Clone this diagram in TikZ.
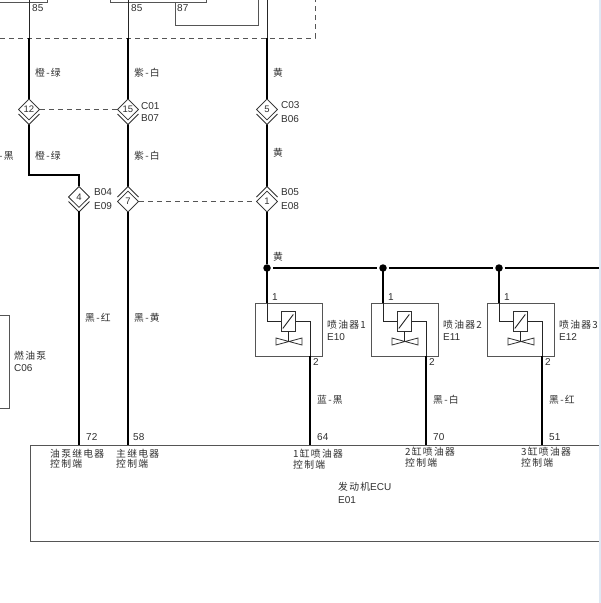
\documentclass[tikz,border=0pt]{standalone}
\usepackage{fontspec}
\setmainfont{Liberation Sans}
\newfontfamily\cjk[LetterSpace=13]{Noto Sans CJK SC}
\usetikzlibrary{shapes.geometric}
\definecolor{ink}{HTML}{303030}
\definecolor{boxline}{HTML}{555555}
\definecolor{edgestrip}{HTML}{DFE8F3}
\tikzset{
  x=1pt,y=-1pt,
  wire/.style={line width=2.9pt,black,line join=miter},
  thin wire/.style={line width=0.9pt,black!85},
  frame/.style={line width=0.9pt,boxline},
  dashline/.style={line width=0.8pt,boxline,dash pattern=on 5pt off 4pt},
  conn/.style={diamond,draw=ink,line width=0.8pt,fill=white,inner sep=0pt,minimum size=21pt,font=\fontsize{9.5}{10}\selectfont,text=ink},
  chev/.style={line width=0.8pt,ink},
  lab/.style={anchor=west,inner sep=0pt,text=ink,font=\fontsize{10}{10}\selectfont},
  cn/.style={anchor=west,inner sep=0pt,text=ink,font=\fontsize{9.8}{10}\cjk},
  dot/.style={circle,fill=black,inner sep=0pt,minimum size=7.5pt},
}
\begin{document}
\begin{tikzpicture}
\useasboundingbox (0,0) rectangle (601,603);
\fill[white] (0,0) rectangle (601,603);
\fill[edgestrip] (599,0) rectangle (601,603);
% upper partial boxes
\draw[frame] (0,2) -- (47,2) -- (47,0);
\draw[frame] (110,0) -- (110,2) -- (206,2) -- (206,0);
\draw[frame] (175,2) -- (175,25) -- (258,25) -- (258,0);
\draw[dashline] (0,38) -- (315,38) -- (315,0);
\node[lab] (p85a) at (32,8) {85};
\node[lab] (p85b) at (131,8) {85};
\node[lab] (p87) at (177,8) {87};
% coordinates
\coordinate (t1) at (29,0); \coordinate (m1) at (29,38);
\coordinate (t2) at (128,0); \coordinate (m2) at (128,38);
\coordinate (t3) at (267,0); \coordinate (m3) at (267,38);
% connectors
\node[conn] (c12) at (29,109.5) {12};
\node[conn] (c15) at (128,109.5) {15};
\node[conn] (c5) at (267,109.5) {5};
\node[conn] (c4) at (79,197) {4};
\node[conn] (c7) at (128,201.5) {7};
\node[conn] (c1) at (267,201.5) {1};
\draw[thin wire] (t1) -- (m1);
\draw[thin wire] (t2) -- (m2);
\draw[thin wire] (t3) -- (m3);
\draw[wire] (m1) -- (c12.north);
\draw[wire] (m2) -- (c15.north);
\draw[wire] (m3) -- (c5.north);
\coordinate (b12) at (29,124); \coordinate (b15) at (128,124); \coordinate (b5) at (267,124);
\coordinate (b4) at (79,211); \coordinate (a7) at (128,187); \coordinate (a1) at (267,187);
\draw[wire] (b12) -- (29,175) -- (79,175) -- (c4.north);
\draw[wire] (b15) -- (a7);
\draw[wire] (b5) -- (a1);
\draw[dashline] (c12.east) -- (c15.west);
\draw[dashline] (c7.east) -- (c1.west);
\foreach \n in {12,15,5,4}{
  \draw[chev,fill=white] ([shift={(-10.5,4.5)}]c\n.center) -- ([shift={(0,15)}]c\n.center) -- ([shift={(10.5,4.5)}]c\n.center);
}
\foreach \n in {7,1}{
  \draw[chev,fill=white] ([shift={(-10.5,-4.5)}]c\n.center) -- ([shift={(0,-15)}]c\n.center) -- ([shift={(10.5,-4.5)}]c\n.center);
}
\foreach \n in {12,15,5,4,7,1}{
  \node[conn] at (c\n) {};
}
\node[conn,draw=none,fill=none] at (c12) {12};
\node[conn,draw=none,fill=none] at (c15) {15};
\node[conn,draw=none,fill=none] at (c5) {5};
\node[conn,draw=none,fill=none] at (c4) {4};
\node[conn,draw=none,fill=none] at (c7) {7};
\node[conn,draw=none,fill=none] at (c1) {1};
% ECU box
\draw[frame] (598.5,445) -- (30,445) -- (30,541) -- (598.5,541);
\coordinate (e72) at (79,445); \coordinate (e58) at (128,445);
\draw[wire] (b4) -- (e72);
\draw[wire] (c7.south) -- (e58);
% bus
\node[dot] (d1) at (267,268) {};
\node[dot] (d2) at (383,268) {};
\node[dot] (d3) at (499,268) {};
\coordinate (busend) at (598.5,268);
\draw[wire] (c1.south) -- (d1);
\draw[wire,shorten <=2pt,shorten >=2pt] (d1) -- (d2);
\draw[wire,shorten <=2pt,shorten >=2pt] (d2) -- (d3);
\draw[wire,shorten <=2pt] (d3) -- (busend);
% injectors
\foreach \i/\dx/\nm/\code/\pb/\wn/\pn in {1/0/喷油器1/E10/64/蓝-黑/1,2/116/喷油器2/E11/70/黑-白/2,3/232/喷油器3/E12/51/黑-红/3}{
  \begin{scope}[xshift=\dx pt]
    \node[draw=boxline,line width=0.9pt,minimum width=67pt,minimum height=53pt,inner sep=0pt] (inj\i) at (289,329.5) {};
    \draw[wire] (267,268) -- (267,303);
    \draw[thin wire] (267,303) -- (267,321) -- (282,321);
    \node[draw=ink,line width=0.8pt,minimum width=13.5pt,minimum height=20pt,inner sep=0pt] (coil\i) at (288.5,321) {};
    \draw[thin wire] (coil\i.south west) ++(1.5,-3) -- ++(10.5,-14);
    \draw[thin wire] (coil\i.east) -- (310,321) -- (310,356);
    \draw[thin wire] (coil\i.south) -- (288.5,341);
    \draw[chev] (276,338) -- (302,345) -- (302,338) -- (276,345) -- cycle;
    \draw[wire] (310,356) -- (310,445);
    \node[lab] at (272,297) {1};
    \node[lab] at (313,362) {2};
    \node[cn] at (327,324.5) {\nm};
    \node[lab] at (327,337) {\code};
    \node[lab] at (317,437) {\pb};
    \node[cn] at (317,400) {\wn};
  \end{scope}
}
% wire labels
\node[cn] (w1) at (35,73) {橙-绿};
\node[cn] (w2) at (134,73) {紫-白};
\node[cn] (w3) at (273,73) {黄};
\node[cn] (w4) at (35,156) {橙-绿};
\node[cn] (w5) at (134,156) {紫-白};
\node[cn] (w6) at (273,153) {黄};
\node[cn] (w7) at (-1,156) {-黑};
\node[cn] (w8) at (273,257) {黄};
\node[cn] (w9) at (85,318) {黑-红};
\node[cn] (w10) at (134,318) {黑-黄};
\node[lab] (l1) at (141,106) {C01};
\node[lab] (l2) at (141,118) {B07};
\node[lab] (l3) at (281,105) {C03};
\node[lab] (l4) at (281,119) {B06};
\node[lab] (l5) at (94,192) {B04};
\node[lab] (l6) at (94,206) {E09};
\node[lab] (l7) at (281,192) {B05};
\node[lab] (l8) at (281,206) {E08};
% fuel pump
\draw[frame] (0,315) -- (9,315) -- (9,408) -- (0,408);
\node[cn] (f1) at (14,356) {燃油泵};
\node[lab] (f2) at (14,368.5) {C06};
% ECU text
\node[lab] (n72) at (86,437) {72};
\node[lab] (n58) at (133,437) {58};
\node[cn] (e1) at (50,453.5) {油泵继电器};
\node[cn] (e2) at (50,463.5) {控制端};
\node[cn] (e3) at (116,453.5) {主继电器};
\node[cn] (e4) at (116,463.5) {控制端};
\node[cn] (e5) at (293,453.5) {1缸喷油器};
\node[cn] (e6) at (293,464.5) {控制端};
\node[cn] (e7) at (405,451.5) {2缸喷油器};
\node[cn] (e8) at (405,463) {控制端};
\node[cn] (e9) at (521,451.5) {3缸喷油器};
\node[cn] (e10) at (521,463) {控制端};
\node[anchor=west,inner sep=0pt,text=ink] (e11) at (338,486.5) {{\fontsize{9.8}{10}\cjk 发动机}{\fontsize{10}{10}\selectfont ECU}};
\node[lab] (e12) at (338,500.5) {E01};
\end{tikzpicture}
\end{document}
